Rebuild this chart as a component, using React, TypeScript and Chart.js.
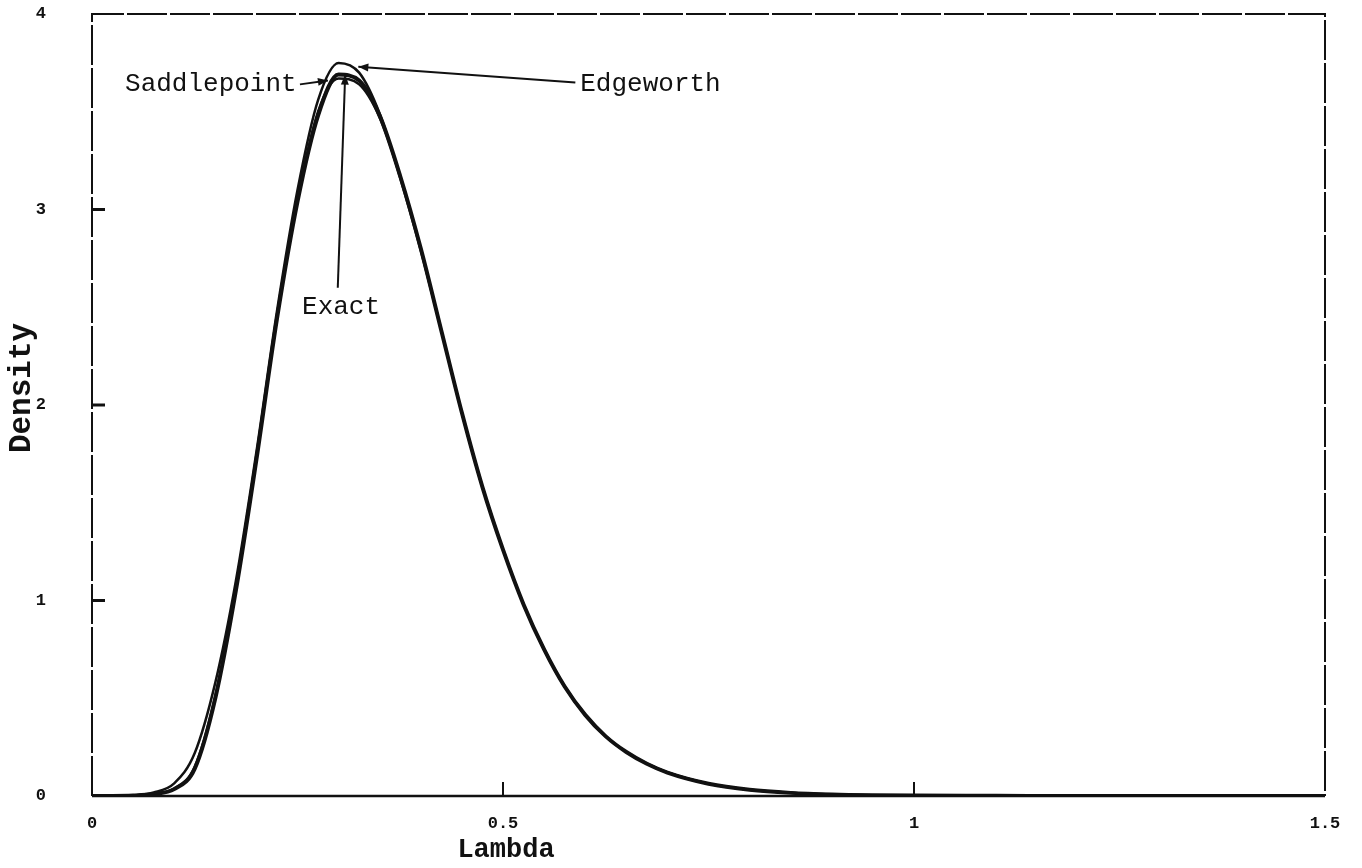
import React, { useEffect, useRef } from "react";
import { Chart, registerables } from "chart.js";

Chart.register(...registerables);

// ---- Data ----
const lambdaValues = [
  0, 0.025, 0.05, 0.075, 0.1, 0.125, 0.15, 0.175, 0.2, 0.225, 0.25, 0.275, 0.3, 0.325, 0.35, 0.375,
  0.4, 0.425, 0.45, 0.475, 0.5, 0.525, 0.55, 0.575, 0.6, 0.625, 0.65, 0.675, 0.7, 0.75, 0.8, 0.85,
  0.9, 0.95, 1.0, 1.1, 1.2, 1.3, 1.4, 1.5,
];
const exactDensity = [
  0, 0, 0.002, 0.01, 0.035, 0.14, 0.5, 1.05, 1.72, 2.44, 3.04, 3.48, 3.69, 3.66, 3.48, 3.17,
  2.8, 2.38, 1.96, 1.58, 1.26, 0.98, 0.75, 0.56, 0.415, 0.305, 0.225, 0.165, 0.12, 0.063, 0.032, 0.016,
  0.008, 0.004, 0.002, 0.001, 0, 0, 0, 0,
];
const saddlepointDensity = [
  0, 0, 0.002, 0.011, 0.038, 0.15, 0.51, 1.06, 1.73, 2.45, 3.05, 3.5, 3.67, 3.64, 3.47, 3.17,
  2.8, 2.38, 1.96, 1.58, 1.26, 0.98, 0.75, 0.56, 0.415, 0.305, 0.225, 0.165, 0.12, 0.063, 0.032, 0.016,
  0.008, 0.004, 0.002, 0.001, 0, 0, 0, 0,
];
const edgeworthDensity = [
  0, 0, 0.004, 0.018, 0.065, 0.22, 0.58, 1.1, 1.76, 2.48, 3.1, 3.56, 3.75, 3.7, 3.49, 3.16,
  2.79, 2.38, 1.96, 1.58, 1.26, 0.98, 0.75, 0.56, 0.415, 0.305, 0.225, 0.165, 0.12, 0.063, 0.032, 0.016,
  0.008, 0.004, 0.002, 0.001, 0, 0, 0, 0,
];

const xTickValues = [0, 0.5, 1, 1.5];
const yTickValues = [0, 1, 2, 3, 4];
const xInnerTicks = [0.5, 1];
const yInnerTicks = [1, 2, 3];

const xAxisTitle = "Lambda";
const yAxisTitle = "Density";

// annotations (in data units)
const noteLabels = ["Saddlepoint", "Edgeworth", "Exact"];
const noteTextX = [0.249, 0.594, 0.303];
const noteTextY = [3.64, 3.64, 2.5];
const noteAlign = ["right", "left", "center"];
const noteFromX = [0.253, 0.588, 0.299];
const noteFromY = [3.64, 3.65, 2.6];
const noteToX = [0.287, 0.324, 0.308];
const noteToY = [3.66, 3.73, 3.69];

const toPoints = (ys: number[]) => lambdaValues.map((x, i) => ({ x, y: ys[i] }));

const decorPlugin = {
  id: "decor",
  afterDraw(chart: any) {
    const { ctx, chartArea: a, scales } = chart;
    const xs = scales.x;
    const ys = scales.y;
    ctx.save();
    ctx.strokeStyle = "#111";
    ctx.fillStyle = "#111";
    // frame
    ctx.lineWidth = 2;
    ctx.setLineDash([40, 3]);
    ctx.beginPath();
    ctx.moveTo(a.left, a.bottom);
    ctx.lineTo(a.left, a.top);
    ctx.lineTo(a.right, a.top);
    ctx.lineTo(a.right, a.bottom);
    ctx.stroke();
    ctx.setLineDash([]);
    ctx.lineWidth = 2.5;
    ctx.beginPath();
    ctx.moveTo(a.left, a.bottom);
    ctx.lineTo(a.right, a.bottom);
    ctx.stroke();
    // inward ticks
    ctx.lineWidth = 3;
    yInnerTicks.forEach((v) => {
      const py = ys.getPixelForValue(v);
      ctx.beginPath();
      ctx.moveTo(a.left, py);
      ctx.lineTo(a.left + 13, py);
      ctx.stroke();
    });
    ctx.lineWidth = 2;
    xInnerTicks.forEach((v) => {
      const px = xs.getPixelForValue(v);
      ctx.beginPath();
      ctx.moveTo(px, a.bottom);
      ctx.lineTo(px, a.bottom - 14);
      ctx.stroke();
    });
    // annotations
    ctx.font = "26px 'Liberation Mono', 'DejaVu Sans Mono', monospace";
    ctx.textBaseline = "middle";
    noteLabels.forEach((label, i) => {
      ctx.textAlign = noteAlign[i] as CanvasTextAlign;
      ctx.fillText(label, xs.getPixelForValue(noteTextX[i]), ys.getPixelForValue(noteTextY[i]));
      const x0 = xs.getPixelForValue(noteFromX[i]);
      const y0 = ys.getPixelForValue(noteFromY[i]);
      const x1 = xs.getPixelForValue(noteToX[i]);
      const y1 = ys.getPixelForValue(noteToY[i]);
      ctx.lineWidth = 2;
      ctx.beginPath();
      ctx.moveTo(x0, y0);
      ctx.lineTo(x1, y1);
      ctx.stroke();
      const ang = Math.atan2(y1 - y0, x1 - x0);
      const len = 10;
      const half = 4;
      ctx.beginPath();
      ctx.moveTo(x1, y1);
      ctx.lineTo(
        x1 - len * Math.cos(ang) + half * Math.sin(ang),
        y1 - len * Math.sin(ang) - half * Math.cos(ang)
      );
      ctx.lineTo(
        x1 - len * Math.cos(ang) - half * Math.sin(ang),
        y1 - len * Math.sin(ang) + half * Math.cos(ang)
      );
      ctx.closePath();
      ctx.fill();
    });
    // axis titles
    ctx.textAlign = "center";
    ctx.font = "bold 27px 'Liberation Mono', 'DejaVu Sans Mono', monospace";
    ctx.fillText(xAxisTitle, xs.getPixelForValue(0.5) + 3, 850);
    ctx.translate(22, (a.top + a.bottom) / 2 - 17);
    ctx.rotate(-Math.PI / 2);
    ctx.font = "bold 31px 'Liberation Mono', 'DejaVu Sans Mono', monospace";
    ctx.fillText(yAxisTitle, 0, 0);
    ctx.restore();
  },
};

export default function App() {
  const canvasRef = useRef<HTMLCanvasElement | null>(null);

  useEffect(() => {
    if (!canvasRef.current) return;
    const lineStyle = {
      borderColor: "#111",
      pointRadius: 0,
      fill: false,
      cubicInterpolationMode: "monotone" as const,
    };
    const tickFont = { family: "'Liberation Mono', monospace", size: 17, weight: "bold" as const };
    const chart = new Chart(canvasRef.current, {
      type: "line",
      data: {
        datasets: [
          { label: "Exact", data: toPoints(exactDensity), borderWidth: 4, ...lineStyle },
          { label: "Saddlepoint", data: toPoints(saddlepointDensity), borderWidth: 2.5, ...lineStyle },
          { label: "Edgeworth", data: toPoints(edgeworthDensity), borderWidth: 2.5, ...lineStyle },
        ],
      },
      options: {
        animation: false,
        responsive: true,
        maintainAspectRatio: false,
        layout: { padding: { left: 0, top: 14, right: 37, bottom: 0 } },
        plugins: { legend: { display: false }, tooltip: { enabled: false } },
        scales: {
          x: {
            type: "linear",
            min: 0,
            max: 1.5,
            afterFit: (s: any) => {
              s.height = 72;
              s.paddingLeft = 0;
              s.paddingRight = 0;
            },
            afterBuildTicks: (s: any) => {
              s.ticks = xTickValues.map((v) => ({ value: v }));
            },
            grid: { display: false, drawTicks: false },
            border: { display: false },
            ticks: {
              padding: 18,
              color: "#111",
              font: tickFont,
              maxRotation: 0,
              autoSkip: false,
              callback: (v: any) => String(v),
            },
          },
          y: {
            type: "linear",
            min: 0,
            max: 4,
            afterFit: (s: any) => {
              s.width = 92;
              s.paddingTop = 0;
              s.paddingBottom = 0;
            },
            afterBuildTicks: (s: any) => {
              s.ticks = yTickValues.map((v) => ({ value: v }));
            },
            grid: { display: false, drawTicks: false },
            border: { display: false },
            ticks: {
              padding: 46,
              color: "#111",
              font: tickFont,
              callback: (v: any) => String(v),
            },
          },
        },
      },
      plugins: [decorPlugin],
    });
    return () => chart.destroy();
  }, []);

  return (
    <div style={{ position: "fixed", left: 0, top: 0, width: 1362, height: 868, background: "#fff" }}>
      <canvas ref={canvasRef} />
    </div>
  );
}
